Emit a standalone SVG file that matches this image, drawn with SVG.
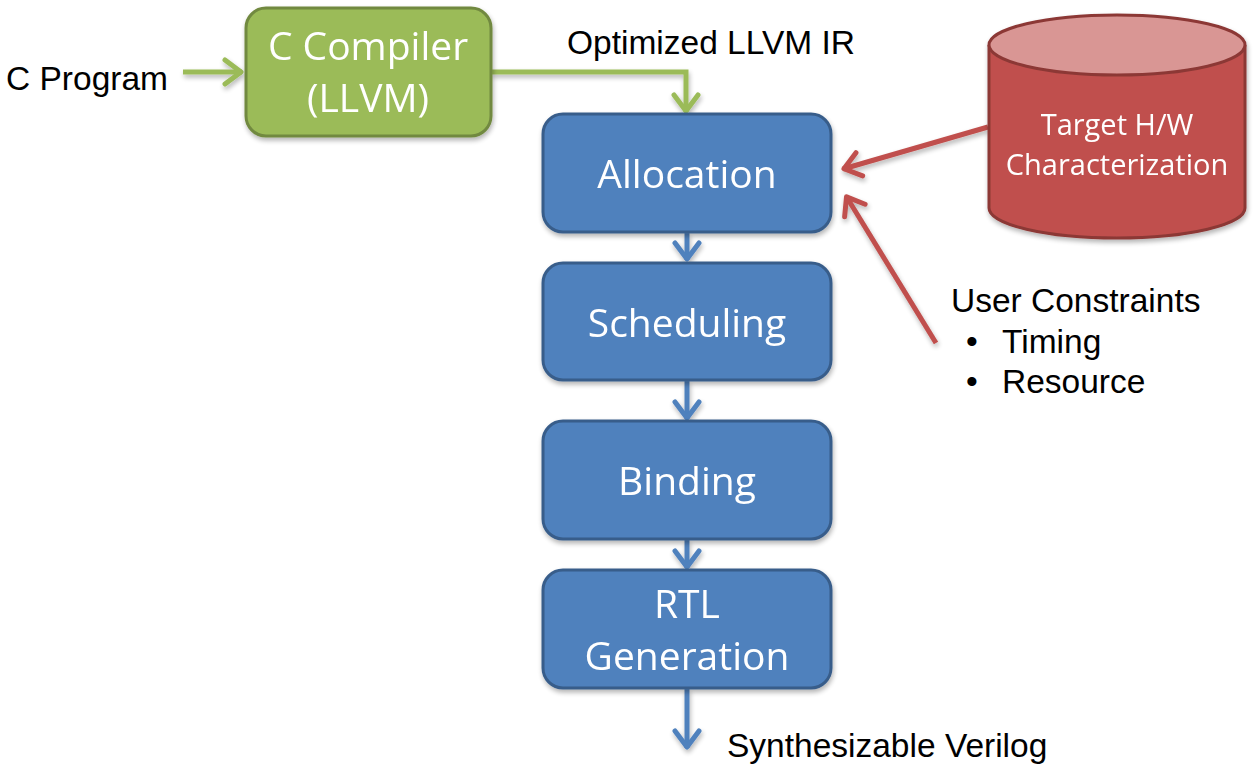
<svg xmlns="http://www.w3.org/2000/svg" width="1253" height="778" viewBox="0 0 1253 778">
<style>
.box{fill:#4F81BD;stroke:#385D8A;stroke-width:3}
.gbox{fill:#9BBB59;stroke:#71893F;stroke-width:3}
.lbl{font-family:"Open Sans",sans-serif;fill:#fff;text-anchor:middle}
.big{font-size:39px}
.cyl{font-size:29px}
.ext{font-family:"Liberation Sans",Arial,sans-serif;font-size:33.5px;fill:#000}
.g{stroke:#9BBB59;stroke-width:5;fill:none}
.b{stroke:#4F81BD;stroke-width:5;fill:none}
.r{stroke:#C0504D;stroke-width:5;fill:none}
</style>
<defs>
<filter id="sh" x="-10%" y="-10%" width="130%" height="130%">
<feGaussianBlur in="SourceAlpha" stdDeviation="2.5"/>
<feOffset dx="1" dy="3" result="o"/>
<feComponentTransfer><feFuncA type="linear" slope="0.3"/></feComponentTransfer>
<feMerge><feMergeNode/><feMergeNode in="SourceGraphic"/></feMerge>
</filter>
<marker id="ag" markerUnits="userSpaceOnUse" markerWidth="30" markerHeight="34" viewBox="0 0 30 34" refX="22" refY="17" orient="auto">
<path d="M5,5 L21,17 L5,29" fill="none" stroke="#9BBB59" stroke-width="5" stroke-linecap="round" stroke-linejoin="round"/>
</marker>
<marker id="ab" markerUnits="userSpaceOnUse" markerWidth="30" markerHeight="34" viewBox="0 0 30 34" refX="22" refY="17" orient="auto">
<path d="M5,5 L21,17 L5,29" fill="none" stroke="#4F81BD" stroke-width="5" stroke-linecap="round" stroke-linejoin="round"/>
</marker>
<marker id="ar" markerUnits="userSpaceOnUse" markerWidth="30" markerHeight="34" viewBox="0 0 30 34" refX="22" refY="17" orient="auto">
<path d="M5,5 L21,17 L5,29" fill="none" stroke="#C0504D" stroke-width="5" stroke-linecap="round" stroke-linejoin="round"/>
</marker>
</defs>
<rect width="1253" height="778" fill="#fff"/>

<g id="connectors" filter="url(#sh)">
<line class="g" x1="183" y1="72" x2="242" y2="72" marker-end="url(#ag)"/>
<polyline class="g" points="491,72 686,72 686,112" marker-end="url(#ag)"/>
<line class="b" x1="687" y1="233" x2="687" y2="260" marker-end="url(#ab)"/>
<line class="b" x1="687" y1="381" x2="687" y2="419" marker-end="url(#ab)"/>
<line class="b" x1="687" y1="540" x2="687" y2="568" marker-end="url(#ab)"/>
<line class="b" x1="687" y1="689" x2="687" y2="748" marker-end="url(#ab)"/>
<line class="r" x1="988" y1="127" x2="843" y2="169" marker-end="url(#ar)"/>
<line class="r" x1="936" y1="343" x2="846" y2="196" marker-end="url(#ar)"/>
</g>

<g id="c-program"><text class="ext" x="6" y="90">C Program</text></g>

<g id="c-compiler" filter="url(#sh)">
<rect class="gbox" x="246" y="8" width="245" height="128" rx="20"/>
<text class="lbl big" x="368" y="60">C Compiler</text>
<text class="lbl big" x="368" y="112">(LLVM)</text>
</g>

<g id="optimized-label"><text class="ext" x="567" y="54">Optimized LLVM IR</text></g>

<g id="allocation" filter="url(#sh)">
<rect class="box" x="543" y="114" width="288" height="118" rx="20"/>
<text class="lbl big" x="687" y="188">Allocation</text>
</g>
<g id="scheduling" filter="url(#sh)">
<rect class="box" x="543" y="263" width="288" height="117" rx="20"/>
<text class="lbl big" x="687" y="337">Scheduling</text>
</g>
<g id="binding" filter="url(#sh)">
<rect class="box" x="543" y="421" width="288" height="118" rx="20"/>
<text class="lbl big" x="687" y="495">Binding</text>
</g>
<g id="rtl-generation" filter="url(#sh)">
<rect class="box" x="543" y="570" width="288" height="118" rx="20"/>
<text class="lbl big" x="687" y="618">RTL</text>
<text class="lbl big" x="687" y="670">Generation</text>
</g>

<g id="target-hw" filter="url(#sh)">
<path d="M989,45 L989,208 A128,30 0 0 0 1245,208 L1245,45" fill="#C0504D" stroke="#8C3836" stroke-width="3"/>
<ellipse cx="1117" cy="45" rx="128" ry="30" fill="#D99694" stroke="#8C3836" stroke-width="3"/>
<text class="lbl cyl" x="1117" y="135">Target H/W</text>
<text class="lbl cyl" x="1117" y="175">Characterization</text>
</g>

<g id="user-constraints">
<text class="ext" x="951" y="312">User Constraints</text>
<text class="ext" x="966" y="353">•</text>
<text class="ext" x="1002" y="353">Timing</text>
<text class="ext" x="966" y="393">•</text>
<text class="ext" x="1002" y="393">Resource</text>
</g>

<g id="output-label"><text class="ext" x="727" y="757">Synthesizable Verilog</text></g>
</svg>
